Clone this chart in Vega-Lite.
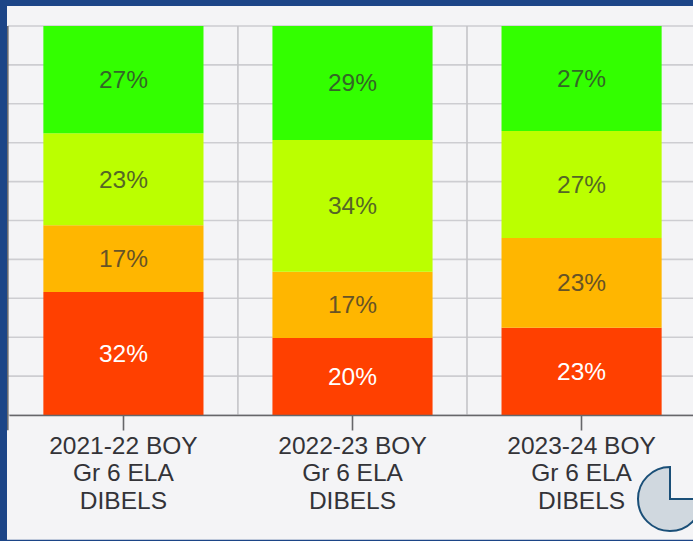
{
  "$schema": "https://vega.github.io/schema/vega-lite/v6.json",
  "width": 685,
  "height": 389,
  "autosize": {"type": "none"},
  "padding": {"left": 8, "top": 26, "right": 0, "bottom": 126},
  "background": "#1c4587",
  "view": {"stroke": null},
  "datasets": {
    "segments": [
      {"cat": "2021-22 BOY\nGr 6 ELA\nDIBELS", "band": "Red", "rank": 1, "value": 31.6, "label": "32%"},
      {"cat": "2021-22 BOY\nGr 6 ELA\nDIBELS", "band": "Orange", "rank": 2, "value": 17.2, "label": "17%"},
      {"cat": "2021-22 BOY\nGr 6 ELA\nDIBELS", "band": "Lime", "rank": 3, "value": 23.6, "label": "23%"},
      {"cat": "2021-22 BOY\nGr 6 ELA\nDIBELS", "band": "Green", "rank": 4, "value": 27.6, "label": "27%"},
      {"cat": "2022-23 BOY\nGr 6 ELA\nDIBELS", "band": "Red", "rank": 1, "value": 19.8, "label": "20%"},
      {"cat": "2022-23 BOY\nGr 6 ELA\nDIBELS", "band": "Orange", "rank": 2, "value": 17.0, "label": "17%"},
      {"cat": "2022-23 BOY\nGr 6 ELA\nDIBELS", "band": "Lime", "rank": 3, "value": 33.9, "label": "34%"},
      {"cat": "2022-23 BOY\nGr 6 ELA\nDIBELS", "band": "Green", "rank": 4, "value": 29.3, "label": "29%"},
      {"cat": "2023-24 BOY\nGr 6 ELA\nDIBELS", "band": "Red", "rank": 1, "value": 22.4, "label": "23%"},
      {"cat": "2023-24 BOY\nGr 6 ELA\nDIBELS", "band": "Orange", "rank": 2, "value": 23.1, "label": "23%"},
      {"cat": "2023-24 BOY\nGr 6 ELA\nDIBELS", "band": "Lime", "rank": 3, "value": 27.5, "label": "27%"},
      {"cat": "2023-24 BOY\nGr 6 ELA\nDIBELS", "band": "Green", "rank": 4, "value": 27.0, "label": "27%"}
    ],
    "gridY": [{"t": 0}, {"t": 10}, {"t": 20}, {"t": 30}, {"t": 40}, {"t": 50}, {"t": 60}, {"t": 70}, {"t": 80}, {"t": 90}, {"t": 100}],
    "gridX": [{"cat": "2022-23 BOY\nGr 6 ELA\nDIBELS"}, {"cat": "2023-24 BOY\nGr 6 ELA\nDIBELS"}],
    "leftEdge": [{"cat": "2021-22 BOY\nGr 6 ELA\nDIBELS", "top": 100, "bottom": -3.9}],
    "panel": [{"top": 105.14, "bottom": -32.1}],
    "icon": [{"y": -21.6}]
  },
  "layer": [
    {
      "data": {"name": "panel"},
      "mark": {"type": "rect", "fill": "#f4f4f6", "clip": false},
      "encoding": {
        "x": {"value": -1},
        "x2": {"value": 700},
        "y": {"field": "top", "type": "quantitative", "scale": {"domain": [0, 100], "nice": false, "zero": false}, "axis": null},
        "y2": {"field": "bottom"}
      }
    },
    {
      "data": {"name": "gridY"},
      "mark": {"type": "rule", "stroke": "#cdcdd1", "strokeWidth": 1.6},
      "encoding": {"y": {"field": "t", "type": "quantitative"}}
    },
    {
      "data": {"name": "gridX"},
      "mark": {"type": "rule", "stroke": "#c4c4c8", "strokeWidth": 1.6},
      "encoding": {"x": {"field": "cat", "type": "nominal", "bandPosition": -0.2156}}
    },
    {
      "data": {"name": "leftEdge"},
      "mark": {"type": "rule", "stroke": "#6a6a6e", "strokeWidth": 1.6},
      "encoding": {
        "x": {"field": "cat", "type": "nominal", "bandPosition": -0.222},
        "y": {"field": "top", "type": "quantitative"},
        "y2": {"field": "bottom"}
      }
    },
    {
      "data": {"name": "segments"},
      "mark": {"type": "bar"},
      "encoding": {
        "x": {
          "field": "cat",
          "type": "nominal",
          "sort": null,
          "title": null,
          "scale": {"range": [1, 688], "paddingInner": 0.301, "paddingOuter": 0.15},
          "axis": {
            "zindex": 1,
            "labelAngle": 0,
            "labelAlign": "center",
            "labelExpr": "split(datum.value, '\\n')",
            "labelFont": "Liberation Sans",
            "labelFontSize": 24.5,
            "labelLineHeight": 27.5,
            "labelColor": "#333338",
            "labelPadding": 4,
            "labelBaseline": "top",
            "tickSize": 15,
            "tickColor": "#66666a",
            "tickWidth": 1.6,
            "domainColor": "#66666a",
            "domainWidth": 1.6,
            "grid": false
          }
        },
        "y": {"field": "value", "type": "quantitative", "stack": "zero"},
        "order": {"field": "rank", "type": "ordinal"},
        "color": {
          "field": "band",
          "type": "nominal",
          "legend": null,
          "scale": {"domain": ["Green", "Lime", "Orange", "Red"], "range": ["#33ff00", "#bbff00", "#ffb600", "#ff4000"]}
        }
      }
    },
    {
      "data": {"name": "segments"},
      "mark": {"type": "text", "font": "Liberation Sans", "fontSize": 24.5, "baseline": "middle", "align": "center", "dy": 1.5},
      "encoding": {
        "x": {"field": "cat", "type": "nominal", "sort": null},
        "y": {"field": "value", "type": "quantitative", "stack": "zero", "bandPosition": 0.5},
        "order": {"field": "rank", "type": "ordinal"},
        "text": {"field": "label", "type": "nominal"},
        "color": {"condition": {"test": "datum.band === 'Red'", "value": "#ffffff"}, "value": "#333333"},
        "opacity": {"condition": {"test": "datum.band === 'Red'", "value": 1}, "value": 0.75}
      }
    },
    {
      "data": {"name": "icon"},
      "mark": {"type": "arc", "theta": 1.5708, "theta2": 6.2832, "outerRadius": 32, "innerRadius": 0, "fill": "#d0d8df", "stroke": "#1a4f78", "strokeWidth": 2},
      "encoding": {
        "x": {"value": 662},
        "y": {"field": "y", "type": "quantitative"}
      }
    }
  ]
}
